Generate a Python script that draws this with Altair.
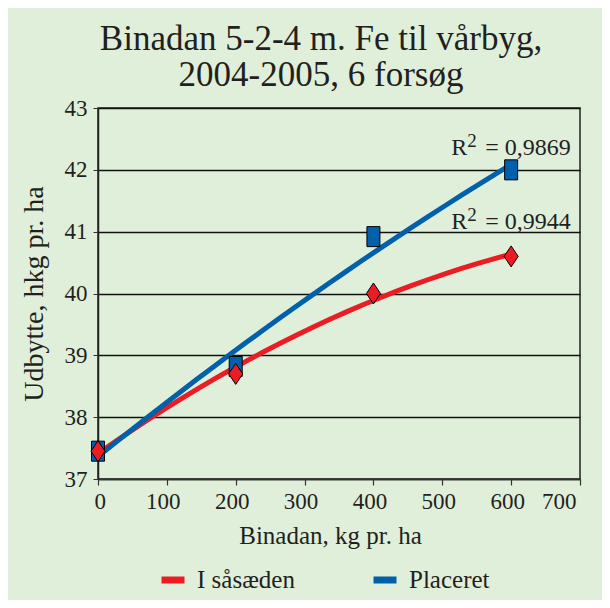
import altair as alt
import pandas as pd

# ---- data ----
x_vals = [0, 200, 400, 600]
y_saaeden = [37.45, 38.7, 40.0, 40.6]
y_placeret = [37.45, 38.82, 40.92, 42.0]
series_names = ["I såsæden", "Placeret"]
series_colors = ["#EC1C24", "#0061AA"]
r2_values = ["= 0,9944", "= 0,9869"]
x_ticks = [0, 100, 200, 300, 400, 500, 600, 700]
y_ticks = [37, 38, 39, 40, 41, 42, 43]
title_lines = ["Binadan 5-2-4 m. Fe til vårbyg,", "2004-2005, 6 forsøg"]

df = pd.DataFrame({
    "x": x_vals + x_vals,
    "y": y_saaeden + y_placeret,
    "series": [series_names[0]] * len(x_vals) + [series_names[1]] * len(x_vals),
})

FONT = "Liberation Serif"
TXT = "#231F20"
BG = "#E0EFDA"

xscale = alt.Scale(domain=[0, 700], nice=False, zero=False)
yscale = alt.Scale(domain=[37, 43], nice=False, zero=False)

x_enc = alt.X("x:Q", scale=xscale, title="Binadan, kg pr. ha",
              axis=alt.Axis(values=x_ticks, format="d", grid=False, tickSize=6,
                            tickColor="#333333", domainColor="#333333", domainWidth=1.5,
                            tickWidth=1.2, labelFont=FONT, labelFontSize=23, labelColor=TXT,
                            labelPadding=5, labelOffset=-4, titleFont=FONT, titleFontSize=25,
                            titleFontWeight="normal", titleColor=TXT, titlePadding=10,
                            titleX=232))
y_enc = alt.Y("y:Q", scale=yscale, title="Udbytte, hkg pr. ha",
              axis=alt.Axis(values=y_ticks, format="d", grid=True, gridColor="#111111",
                            gridWidth=1.5, gridOpacity=1, tickSize=5, tickColor="#333333",
                            domainColor="#222222", domainWidth=1.5, labelFont=FONT,
                            labelFontSize=23, labelColor=TXT, labelPadding=6,
                            titleFont=FONT, titleFontSize=28, titleFontWeight="normal",
                            titleColor=TXT, titlePadding=16))

lines = alt.Chart(df).transform_regression(
    "x", "y", method="poly", order=2, groupby=["series"]
).mark_line(strokeWidth=5).encode(
    x=x_enc,
    y=y_enc,
    color=alt.Color("series:N",
                    scale=alt.Scale(domain=series_names, range=series_colors),
                    legend=alt.Legend(orient="none", legendX=60, legendY=457,
                                      direction="horizontal", title=None,
                                      labelFont=FONT, labelFontSize=25, labelColor=TXT,
                                      symbolType="stroke", symbolStrokeWidth=7,
                                      symbolSize=529, symbolOpacity=1, labelOffset=9,
                                      columnPadding=64, padding=0)),
)

SQUARE = "M-0.65,-1L0.65,-1L0.65,1L-0.65,1Z"
DIAMOND = "M0,-1L0.67,0L0,1L-0.67,0Z"

squares = alt.Chart(df).transform_filter(
    alt.datum.series == series_names[1]
).mark_point(shape=SQUARE, size=400, filled=True, fill=series_colors[1],
             stroke="black", strokeWidth=1, opacity=1).encode(
    x=alt.X("x:Q", scale=xscale), y=alt.Y("y:Q", scale=yscale))

diamonds = alt.Chart(df).transform_filter(
    alt.datum.series == series_names[0]
).mark_point(shape=DIAMOND, size=441, filled=True, fill=series_colors[0],
             stroke="black", strokeWidth=1, opacity=1).encode(
    x=alt.X("x:Q", scale=xscale), y=alt.Y("y:Q", scale=yscale))

# R² annotations anchored at each series' last point
ann_layers = []
label_dy = {series_names[0]: -27, series_names[1]: -15}
for name, last_y, r2 in [(series_names[0], y_saaeden[-1], r2_values[0]),
                         (series_names[1], y_placeret[-1], r2_values[1])]:
    adf = pd.DataFrame({"x": [x_vals[-1]], "y": [last_y], "r": ["R"], "sup": ["2"], "val": [r2]})
    dy = label_dy[name]
    common = dict(font=FONT, color=TXT, align="left", baseline="alphabetic")
    enc = dict(x=alt.X("x:Q", scale=xscale), y=alt.Y("y:Q", scale=yscale))
    ann_layers.append(alt.Chart(adf).mark_text(dx=-60, dy=dy, fontSize=24, **common)
                      .encode(text="r:N", **enc))
    ann_layers.append(alt.Chart(adf).mark_text(dx=-44, dy=dy - 8, fontSize=19, **common)
                      .encode(text="sup:N", **enc))
    ann_layers.append(alt.Chart(adf).mark_text(dx=-26, dy=dy, fontSize=24, **common)
                      .encode(text="val:N", **enc))

chart = alt.layer(lines, squares, diamonds, *ann_layers).properties(
    width=482,
    height=371,
    padding={"left": 90, "top": 100, "right": 22, "bottom": 121},
    autosize=alt.AutoSizeParams(type="none"),
    background=BG,
    title=alt.TitleParams(title_lines, font=FONT, fontSize=35, fontWeight="normal",
                          color=TXT, anchor="middle", frame="group", dx=-18,
                          offset=4, lineHeight=36),
).configure_view(stroke="#222222", strokeWidth=1.5)

chart.save("out.html", embed_options={"renderer": "svg", "actions": False})
